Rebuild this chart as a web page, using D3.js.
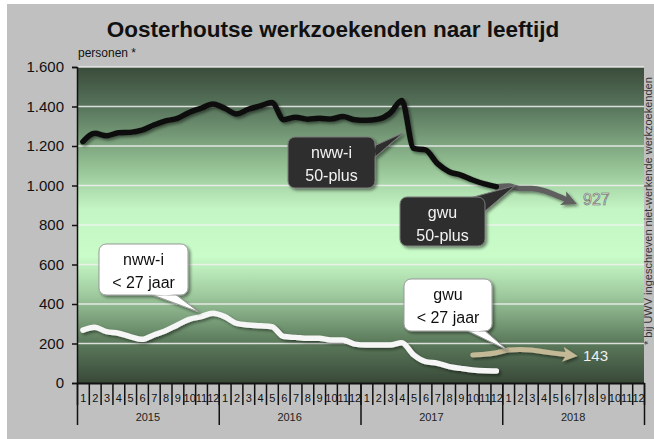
<!DOCTYPE html>
<html>
<head>
<meta charset="utf-8">
<script src="https://cdn.jsdelivr.net/npm/d3@7"></script>
<style>
  body { margin: 0; background: #fff; }
  text { font-family: Arial, "Liberation Sans", sans-serif; }
</style>
</head>
<body>
<svg id="chart" width="654" height="439"></svg>
<script>
// months since jan 2015 (0 = jan 2015)
const years = ["2015", "2016", "2017", "2018"];
const monthLabels = ["1","2","3","4","5","6","7","8","9","10","11","12"];
const yTicks = [0, 200, 400, 600, 800, 1000, 1200, 1400, 1600];

// nww-i 50-plus, jan 2015 - dec 2017
const nww50 = [1222, 1264, 1252, 1267, 1269, 1280, 1306, 1327, 1340, 1370, 1391, 1413,
               1391, 1362, 1386, 1403, 1420, 1333, 1346, 1336, 1340, 1337, 1349, 1333,
               1330, 1336, 1366, 1430, 1188, 1180, 1112, 1070, 1053, 1028, 1008, 994];
// gwu 50-plus, dec 2017 - jun 2018
const gwu50Start = 35;
const gwu50 = [994, 997, 985, 985, 974, 952, 927];

// nww-i < 27 jaar, jan 2015 - dec 2017
const nww27 = [268, 282, 260, 252, 235, 221, 243, 265, 294, 322, 336, 353,
               336, 302, 294, 290, 285, 235, 231, 226, 226, 218, 218, 197,
               192, 192, 192, 204, 142, 108, 100, 83, 74, 66, 62, 61];
// gwu < 27 jaar, okt 2017 - jun 2018
const gwu27Start = 33;
const gwu27 = [142, 145, 153, 167, 170, 167, 158, 150, 143];

const svg = d3.select("#chart");
const W = 654, H = 439;
const plotLeft = 77, plotRight = 644, plotTop = 67, plotBottom = 383;

let x = d3.scaleLinear().domain([0, 48]).range([plotLeft, plotRight]);
let y = d3.scaleLinear().domain([0, 1600]).range([plotBottom, plotTop]);

const defs = svg.append("defs");
let grad = defs.append("linearGradient")
    .attr("id", "bg").attr("x1", 0).attr("y1", 0).attr("x2", 0).attr("y2", 1);
[[0, "#3a4b3a"], [0.12, "#56725a"], [0.3, "#8fbb8f"], [0.45, "#c4f5c4"],
 [0.6, "#c9fcc9"], [0.72, "#9fca9f"], [0.86, "#5f7f5f"], [1, "#384838"]]
    .forEach(function (s) {
        grad.append("stop").attr("offset", s[0]).attr("stop-color", s[1]);
    });

let shadow = defs.append("filter").attr("id", "shadow")
    .attr("x", "-20%").attr("y", "-20%").attr("width", "140%").attr("height", "140%");
shadow.append("feDropShadow").attr("dx", 2).attr("dy", 2)
    .attr("stdDeviation", 1.5).attr("flood-color", "#000").attr("flood-opacity", 0.45);

// grey panel
svg.append("rect").attr("x", 7).attr("y", 4).attr("width", W - 7).attr("height", H - 4)
    .style("fill", "#c0c0c0");

// plot area
svg.append("rect")
    .attr("x", plotLeft).attr("y", plotTop)
    .attr("width", plotRight - plotLeft).attr("height", plotBottom - plotTop)
    .style("fill", "url(#bg)");

svg.append("g").selectAll("line")
    .data(yTicks.filter(function (d) { return d > 0; }))
    .enter().append("line")
    .attr("x1", plotLeft).attr("x2", plotRight)
    .attr("y1", function (d) { return y(d); })
    .attr("y2", function (d) { return y(d); })
    .style("stroke", "#f2f2f2")
    .style("stroke-opacity", 0.85)
    .style("stroke-width", "1.5px");

// title
svg.append("text")
    .attr("x", 333).attr("y", 37)
    .attr("text-anchor", "middle")
    .style("font-size", "22.5px").style("font-weight", "bold").style("fill", "#111")
    .text("Oosterhoutse werkzoekenden naar leeftijd");

svg.append("text")
    .attr("x", 78).attr("y", 57)
    .style("font-size", "12px").style("fill", "#111")
    .text("personen *");

// y axis
const nl = d3.formatLocale({ decimal: ",", thousands: ".", grouping: [3], currency: ["€", ""] });
let yAxis = d3.axisLeft(y)
    .tickValues(yTicks)
    .tickSize(5)
    .tickPadding(8)
    .tickFormat(nl.format(","));

let yg = svg.append("g")
    .attr("transform", "translate(" + plotLeft + ",0)")
    .call(yAxis);
yg.selectAll("text").style("font-size", "15px").style("fill", "#111")
    .style("font-family", "Arial, 'Liberation Sans', sans-serif");
yg.selectAll("line, path").style("stroke", "#111").style("stroke-width", "1.5px");

// x axis: month ticks, year ticks
let monthAxis = d3.axisBottom(x)
    .tickValues(d3.range(49))
    .tickSize(22)
    .tickSizeOuter(0)
    .tickFormat("");
let mg = svg.append("g")
    .attr("transform", "translate(0," + plotBottom + ")")
    .call(monthAxis);
mg.selectAll("line").style("stroke", "#111").style("stroke-width", "1.5px");
mg.select("path").style("stroke", "#111").style("stroke-width", "2px");

let yearAxis = d3.axisBottom(x)
    .tickValues([0, 12, 24, 36, 48])
    .tickSize(42)
    .tickSizeOuter(0)
    .tickFormat("");
let yrg = svg.append("g")
    .attr("transform", "translate(0," + plotBottom + ")")
    .call(yearAxis);
yrg.selectAll("line").style("stroke", "#111").style("stroke-width", "1.5px");
yrg.select("path").remove();

svg.append("g").selectAll("text")
    .data(d3.range(48))
    .enter().append("text")
    .attr("x", function (d) { return x(d + 0.5) + 0.5; })
    .attr("y", 402)
    .attr("text-anchor", "middle")
    .style("font-size", "11px").style("fill", "#111")
    .text(function (d) { return monthLabels[d % 12]; });

svg.append("g").selectAll("text")
    .data(years)
    .enter().append("text")
    .attr("x", function (d, i) { return x(i * 12 + 6); })
    .attr("y", 421)
    .attr("text-anchor", "middle")
    .style("font-size", "11px").style("fill", "#222")
    .text(function (d) { return d; });

// lines
let line = d3.line()
    .x(function (d) { return x(d[0] + 0.5); })
    .y(function (d) { return y(d[1]); })
    .curve(d3.curveMonotoneX);

function series(values, start) {
    return values.map(function (v, i) { return [start + i, v]; });
}

function arrowMarker(id, color) {
    defs.append("marker").attr("id", id)
        .attr("viewBox", "0 0 10 10").attr("refX", 3).attr("refY", 5)
        .attr("markerUnits", "userSpaceOnUse")
        .attr("markerWidth", 18).attr("markerHeight", 15).attr("orient", "auto")
        .append("path").attr("d", "M0,0 L10,5 L0,10 L2.5,5 Z").style("fill", color);
}
arrowMarker("arrowGrey", "#5e5e5e");
arrowMarker("arrowTan", "#c4b996");

let lines = svg.append("g").attr("filter", "url(#shadow)");

lines.append("path").attr("d", line(series(gwu50, gwu50Start)))
    .style("fill", "none").style("stroke", "#5e5e5e").style("stroke-width", "5.5px")
    .style("stroke-linecap", "round").style("stroke-linejoin", "round")
    .attr("marker-end", "url(#arrowGrey)");

lines.append("path").attr("d", line(series(nww50, 0)))
    .style("fill", "none").style("stroke", "#111").style("stroke-width", "5.5px")
    .style("stroke-linecap", "round").style("stroke-linejoin", "round");

lines.append("path").attr("d", line(series(gwu27, gwu27Start)))
    .style("fill", "none").style("stroke", "#c4b996").style("stroke-width", "5px")
    .style("stroke-linecap", "round").style("stroke-linejoin", "round")
    .attr("marker-end", "url(#arrowTan)");

lines.append("path").attr("d", line(series(nww27, 0)))
    .style("fill", "none").style("stroke", "#f6f6f6").style("stroke-width", "5.5px")
    .style("stroke-linecap", "round").style("stroke-linejoin", "round");

// end values
svg.append("text")
    .attr("x", 583).attr("y", y(gwu50[gwu50.length - 1]) + 5)
    .style("font-size", "16px")
    .style("fill", "#e2e2e2").style("stroke", "#666").style("stroke-width", "0.6px")
    .text(gwu50[gwu50.length - 1]);

svg.append("text")
    .attr("x", 583).attr("y", y(gwu27[gwu27.length - 1]) + 6)
    .style("font-size", "15px").style("fill", "#f0f0f0")
    .text(gwu27[gwu27.length - 1]);

// callouts
const callouts = [
    { lines: ["nww-i", "50-plus"], box: [288, 137, 87, 51], base: [[374, 146], [374, 158]],
      tip: [27.6, 1266], dark: true },
    { lines: ["gwu", "50-plus"], box: [400, 197, 85, 49], base: [[470, 198], [484, 212]],
      tip: [37.1, 1000], dark: true },
    { lines: ["nww-i", "< 27 jaar"], box: [99, 244, 89, 51], base: [[150, 294], [175, 294]],
      tip: [10.3, 360], dark: false },
    { lines: ["gwu", "< 27 jaar"], box: [404, 279, 88, 52], base: [[466, 330], [484, 330]],
      tip: [36.4, 168], dark: false }
];

let cg = svg.append("g");
callouts.forEach(function (c) {
    let g = cg.append("g").attr("filter", "url(#shadow)");
    let fill = c.dark ? "#2f2f2f" : "#ffffff";
    let stroke = c.dark ? "#7a7a7a" : "#9a9a9a";
    let tx = x(c.tip[0]), ty = y(c.tip[1]);
    g.append("path")
        .attr("d", "M" + c.base[0][0] + "," + c.base[0][1] + " L" + tx + "," + ty +
            " L" + c.base[1][0] + "," + c.base[1][1] + " Z")
        .style("fill", fill).style("stroke", stroke).style("stroke-width", "1px");
    g.append("rect")
        .attr("x", c.box[0]).attr("y", c.box[1])
        .attr("width", c.box[2]).attr("height", c.box[3])
        .attr("rx", 7).attr("ry", 7)
        .style("fill", fill).style("stroke", stroke).style("stroke-width", "1px");
    // cover inner edge of the wedge
    g.append("path")
        .attr("d", "M" + c.base[0][0] + "," + c.base[0][1] + " L" + (tx * 0.08 + (c.base[0][0] + c.base[1][0]) / 2 * 0.92) + "," +
            (ty * 0.08 + (c.base[0][1] + c.base[1][1]) / 2 * 0.92) + " L" + c.base[1][0] + "," + c.base[1][1] + " Z")
        .style("fill", fill);
    c.lines.forEach(function (t, i) {
        g.append("text")
            .attr("x", c.box[0] + c.box[2] / 2)
            .attr("y", c.box[1] + 21 + i * 23)
            .attr("text-anchor", "middle")
            .style("font-size", "16px")
            .style("fill", c.dark ? "#f2f2f2" : "#111")
            .text(t);
    });
});

// side note
svg.append("text")
    .attr("transform", "translate(651.5,345) rotate(-90)")
    .style("font-size", "11px").style("fill", "#333")
    .text("* bij UWV ingeschreven niet-werkende werkzoekenden");
</script>
</body>
</html>
